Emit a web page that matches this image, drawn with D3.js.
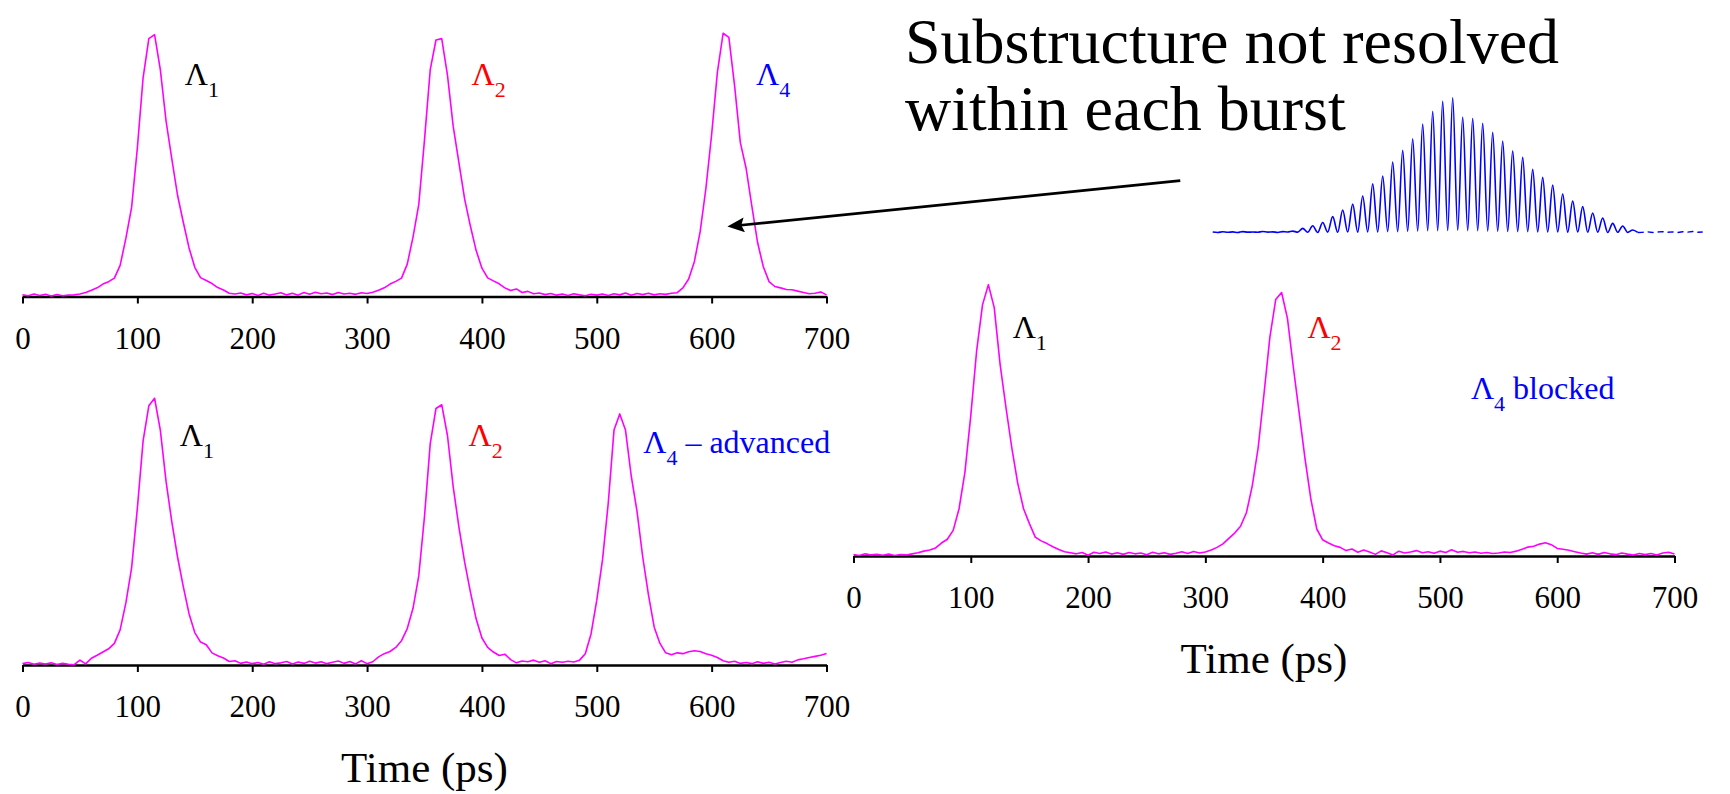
<!DOCTYPE html>
<html><head><meta charset="utf-8">
<script src="https://cdn.jsdelivr.net/npm/d3@7"></script>
<style>
html,body{margin:0;padding:0;background:#fff;}
svg{display:block;}
text{font-family:"Liberation Serif","Times New Roman",serif;}
</style></head><body>
<svg id="chart" width="1730" height="794"></svg>
<script>
// ---------------- DATA ----------------
const timeTicks = [0, 100, 200, 300, 400, 500, 600, 700];
const sampleStep = 5; // ps between samples, t = 0 ... 700

// Top-left trace: Λ1, Λ2, Λ4 bursts (arbitrary intensity units)
const traceTop = [
0.6,0.3,0.9,0.4,0.8,0.2,0.7,0.3,0.5,0.6,
0.9,1.5,2.3,3.2,4.6,5.5,6.8,11.5,21.5,33,
55,81,95.5,97,84,65,51,37.5,27.5,18,
10.8,7,5.9,4.8,3.3,2.4,1.2,0.9,1.3,0.6,
1.1,0.4,1.2,0.5,0.9,1.4,0.6,1.2,0.5,1.5,
0.8,1.6,1.0,1.3,0.7,1.5,0.9,1.2,0.8,1.4,
1.1,1.6,2.3,3.2,4.6,5.6,6.8,12,22,34,
58,84,95,95.5,82,63,49.5,36,26,17,
10.5,6.9,5.8,4.7,3.2,2.2,2.8,1.5,1.9,1.0,
1.3,0.7,1.1,0.5,0.9,0.4,1.0,0.6,0.3,0.8,
0.5,0.9,0.4,1.0,0.6,1.3,0.5,1.1,0.7,1.2,
0.6,1.0,0.8,1.2,1.4,3.2,6.5,13,24,40,
60,83,97.5,96,78,57,47.5,33.5,20,11,
5.5,3.7,3.2,2.6,2.5,2.0,1.5,1.0,1.2,1.7,
0.6];

// Bottom-left trace: Λ1, Λ2, Λ4 advanced
const traceAdvanced = [
0.5,0.9,0.3,0.7,0.4,0.8,0.2,0.6,0.3,0.1,
1.8,0.4,2.5,3.6,4.8,6.0,8.0,13,23,36,
58,83,96,98.8,87,68,53,40,29,19,
12,8.5,7.5,4.5,3.4,2.6,1.3,1.6,0.6,1.1,
0.5,0.9,0.3,1.2,0.5,0.8,1.3,0.4,1.1,0.6,
1.4,0.7,1.2,0.5,1.0,1.5,0.6,1.3,0.4,1.6,
0.5,1.2,3.0,4.2,5.0,6.5,9.0,13.5,21,33,
55,82,95,96.4,85,66,51,38,27,17,
10,6.5,4.8,3.5,4.0,2.0,0.8,1.5,1.2,1.8,
1.0,1.6,0.5,1.3,1.0,1.4,1.1,1.8,4.2,11.5,
24,39,60,87,93,87,70,57,40,26,
14,8,4.5,3.8,4.5,4.2,4.9,5.3,5.0,4.2,
3.6,2.8,1.6,1.0,1.4,0.6,0.9,0.5,1.2,0.6,
1.0,0.4,0.9,1.4,1.0,1.9,2.3,2.8,3.2,3.6,
4.3];

// Right trace: Λ1, Λ2, Λ4 blocked
const traceBlocked = [
0.5,0.2,0.8,0.4,0.6,0.3,0.7,0.2,0.5,0.4,
0.8,1.2,1.8,2.2,3.0,4.8,6.2,9.5,17.5,31,
52,76,93,100.5,92,71,55,40,27,17.5,
12,7,5.6,4.6,3.4,2.4,1.6,1.2,0.8,1.3,
0.3,1.4,0.9,1.5,0.7,1.2,0.6,1.3,0.8,1.1,
0.5,1.4,0.8,1.2,0.6,1.0,1.6,0.9,1.7,1.1,
1.5,2.2,3.2,4.5,6.5,8.5,11,16,26,40,
60,81,95,97.6,88,70,53,36,21,10,
6,4.8,3.8,3.2,2.0,2.6,1.4,2.2,1.5,0.6,
1.9,1.2,0.4,1.8,1.1,1.5,2.0,1.2,1.6,1.0,
1.8,1.3,2.3,1.4,1.7,1.2,1.5,1.0,1.3,0.9,
1.1,1.5,1.3,1.8,2.5,3.3,3.6,4.4,4.9,4.2,
2.8,2.5,2.1,1.6,1.1,0.7,1.2,0.6,1.3,0.8,
0.5,1.1,0.7,0.4,0.9,0.5,0.9,0.4,1.1,1.4,
0.7];

// Inset: resolved substructure of one burst (fringe peak heights, % of max)
const burstPeaks = [3.2,5.2,7.6,11.9,16.8,21.2,27.2,36.3,42,52.4,
61,69.6,80.5,89.9,97.3,100,85.7,84.7,81,74.3,
67.9,60.7,55.8,46.9,41,35.3,28.7,23.5,19.3,14.6,
10.9,6.9,5,2];
const burstTroughs = [0.3,0.2,0.4,0.3,0.5,0.4,0.6,0.5,0.8,0.7,
1.0,1.2,1.4,1.5,1.6,1.8,1.5,1.4,1.2,1.0,
0.9,0.8,0.7,0.6,0.5,0.6,0.4,0.5,0.3,0.4,
0.2,0.3,0.2];
const burstLeadIn = [0.5,0.2,0.7,0.3,0.6,0.1,0.8,0.4,0.5,0.3,0.9,0.4,0.6,0.2,0.8,0.5,1.2,0.4];
const burstTail = [0.3,0.6,0.2,0.5,0.8,0.3,0.6,0.2,0.7,0.4,0.9,0.3,0.5];

// ---------------- DRAWING ----------------
const svg = d3.select("#chart");
const MAGENTA = "#ff00ff", RED = "#ff0000", BLUE = "#0000ff";
const sampleTimes = traceTop.map((_, i) => i * sampleStep);

const panels = [
  { data: traceTop, range: [22.5, 826.5], axisY: 296.5, xlabel: false,
    labels: [
      { t: 141.3, v: 78.3, sub: "1", rest: "", color: "#000" },
      { t: 390.9, v: 78.3, sub: "2", rest: "", color: RED },
      { t: 638.7, v: 78.3, sub: "4", rest: "", color: BLUE }
    ] },
  { data: traceAdvanced, range: [22.5, 826.5], axisY: 665, xlabel: true,
    labels: [
      { t: 137, v: 81.1, sub: "1", rest: "", color: "#000" },
      { t: 388.3, v: 81.1, sub: "2", rest: "", color: RED },
      { t: 540.4, v: 78.5, sub: "4", rest: " \u2013 advanced", color: BLUE }
    ] },
  { data: traceBlocked, range: [853.5, 1674.5], axisY: 556, xlabel: true,
    labels: [
      { t: 135.7, v: 80.7, sub: "1", rest: "", color: "#000" },
      { t: 387, v: 80.7, sub: "2", rest: "", color: RED },
      { t: 526.4, v: 58, sub: "4", rest: " blocked", color: BLUE }
    ] }
];

let topX = null, topY = null;
panels.forEach((p, pi) => {
  const x = d3.scaleLinear().domain([0, 700]).range(p.range);
  const y = d3.scaleLinear().domain([0, 100]).range([p.axisY, p.axisY - 270]);
  if (pi === 0) { topX = x; topY = y; }
  const g = svg.append("g");

  // axis
  const axis = d3.axisBottom(x).tickValues(timeTicks).tickSize(7).tickSizeOuter(0)
    .tickFormat(d3.format("d"));
  const ag = g.append("g").attr("transform", `translate(0,${p.axisY})`).call(axis);
  ag.select(".domain").attr("stroke", "#000").attr("stroke-width", 2.7);
  ag.selectAll(".tick line").attr("stroke", "#000").attr("stroke-width", 2);
  ag.selectAll(".tick text").attr("y", 52).attr("dy", 0).attr("fill", "#000")
    .style("font-size", "31px").style("font-family", '"Liberation Serif","Times New Roman",serif');

  // trace
  const line = d3.line().x((d, i) => x(sampleTimes[i])).y(d => y(d));
  g.append("path").datum(p.data).attr("d", line)
    .attr("fill", "none").attr("stroke", MAGENTA).attr("stroke-width", 1.6)
    .attr("stroke-linejoin", "round");

  // labels
  p.labels.forEach(l => {
    const t = g.append("text").attr("x", x(l.t)).attr("y", y(l.v))
      .attr("fill", l.color).style("font-size", "32px").style("white-space", "pre");
    t.append("tspan").text("\u039B");
    t.append("tspan").attr("dy", 12).style("font-size", "22px").text(l.sub);
    if (l.rest) t.append("tspan").attr("dy", -12).text(l.rest);
  });

  if (p.xlabel) {
    g.append("text").attr("x", x(350)).attr("y", p.axisY + 117)
      .attr("text-anchor", "middle").style("font-size", "43px").attr("fill", "#000")
      .text("Time (ps)");
  }
});

// title annotation
svg.append("text").attr("x", 905).attr("y", 63).style("font-size", "64px").attr("fill", "#000")
  .text("Substructure not resolved");
svg.append("text").attr("x", 905).attr("y", 130).style("font-size", "64px").attr("fill", "#000")
  .text("within each burst");

// arrow (tip at Λ4 burst in top panel)
const defs = svg.append("defs");
defs.append("marker").attr("id", "arrowhead").attr("viewBox", "0 0 17 15")
  .attr("markerUnits", "userSpaceOnUse").attr("markerWidth", 17).attr("markerHeight", 15)
  .attr("refX", 9).attr("refY", 7.5).attr("orient", "auto")
  .append("path").attr("d", "M0,0 L17,7.5 L0,15 L3,7.5 Z").attr("fill", "#000");
const tail = [topX(1008), topY(42.9)], tip = [topX(613.7), topY(25.9)];
const dx = tip[0] - tail[0], dy = tip[1] - tail[1], len = Math.hypot(dx, dy);
const end = [tip[0] - dx / len * 8, tip[1] - dy / len * 8];
svg.append("line").attr("x1", tail[0]).attr("y1", tail[1]).attr("x2", end[0]).attr("y2", end[1])
  .attr("stroke", "#000").attr("stroke-width", 2.7).attr("marker-end", "url(#arrowhead)");

// inset burst
const bx = d3.scaleLinear().domain([-9, 40]).range([1212.7, 1702.7]);
const by = d3.scaleLinear().domain([0, 100]).range([232.7, 97.7]);
const burstPts = [];
burstLeadIn.forEach((v, i) => burstPts.push([-9 + i * 0.5, v]));
burstPeaks.forEach((v, k) => {
  burstPts.push([k, v]);
  if (k < burstTroughs.length) burstPts.push([k + 0.5, burstTroughs[k]]);
});
burstPts.push([33.5, 0.2]);
svg.append("path").datum(burstPts)
  .attr("d", d3.line().x(d => bx(d[0])).y(d => by(d[1])).curve(d3.curveMonotoneX))
  .attr("fill", "none").attr("stroke", BLUE).attr("stroke-width", 1.6);
const tailPts = burstTail.map((v, i) => [34 + i * 0.5, v]);
tailPts.unshift([33.5, 0.2]);
svg.append("path").datum(tailPts)
  .attr("d", d3.line().x(d => bx(d[0])).y(d => by(d[1])))
  .attr("fill", "none").attr("stroke", BLUE).attr("stroke-width", 1.4)
  .attr("stroke-dasharray", "6,4");
</script>
</body></html>
